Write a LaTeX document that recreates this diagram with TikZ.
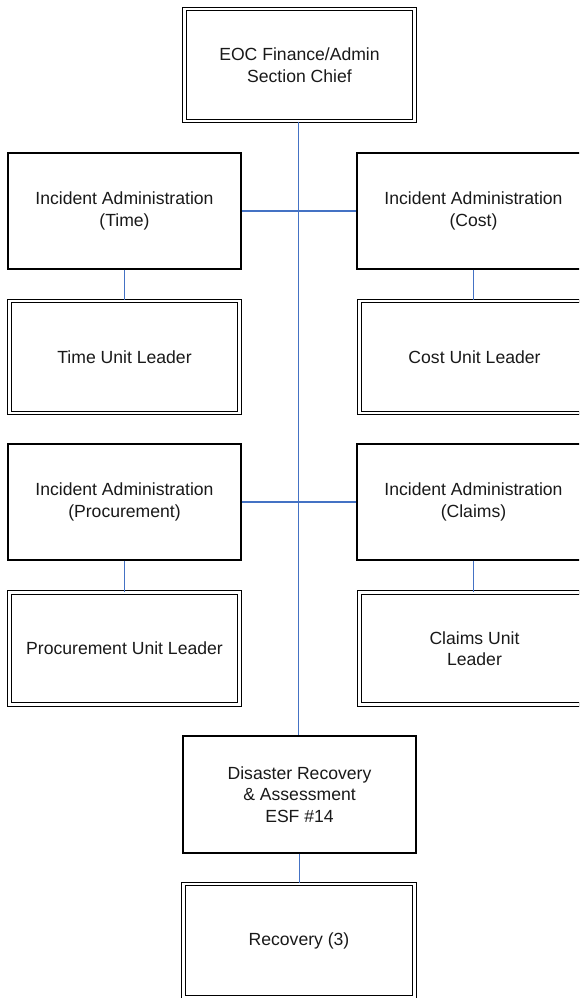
\documentclass[tikz,border=0pt]{standalone}
\usepackage{fontspec}
\setmainfont{Liberation Sans}
\definecolor{linkblue}{HTML}{4472C4}
\begin{document}
\begin{tikzpicture}[x=1pt,y=-1pt,
  every node/.style={font=\fontsize{17.6}{21.5}\selectfont, align=center, inner sep=0pt, text=black!90},
  singlebox/.style={draw=black, line width=1.1pt, minimum width=233pt, minimum height=116pt},
  doublebox/.style={draw=black, line width=1.1pt, double=white, double distance=2.6pt, minimum width=230pt, minimum height=112pt},
  link/.style={draw=linkblue, line width=1.2pt}]
\useasboundingbox (0,0) rectangle (579,998);
\clip (0,0) rectangle (579,998);
\node[doublebox] (top) at (299.5,65) {EOC Finance/Admin\\Section Chief};
\node[singlebox] (timeadm) at (124.5,211) {Incident Administration\\(Time)};
\node[singlebox] (costadm) at (473.5,211) {Incident Administration\\(Cost)};
\node[doublebox] (timeul) at (124.5,357) {Time Unit Leader};
\node[doublebox] (costul) at (474.5,357) {Cost Unit Leader};
\node[singlebox] (procadm) at (124.5,502) {Incident Administration\\(Procurement)};
\node[singlebox] (claimsadm) at (473.5,502) {Incident Administration\\(Claims)};
\node[doublebox] (procul) at (124.5,648.5) {Procurement Unit Leader};
\node[doublebox] (claimsul) at (474.5,648.5) {Claims Unit\\Leader};
\node[singlebox, minimum height=117pt] (disaster) at (299.5,794.5) {Disaster Recovery\\\& Assessment\\ESF \#14};
\node[doublebox, minimum width=231pt, minimum height=113pt] (recovery) at (299,940.5) {Recovery (3)};
\draw[link] ([xshift=-1pt]top.south) -- ([xshift=-1pt]top.south |- disaster.north);
\draw[link] (timeadm.east) -- (costadm.west);
\draw[link] (procadm.east) -- (claimsadm.west);
\draw[link] (timeadm.south) -- (timeadm.south |- timeul.north);
\draw[link] (costadm.south) -- (costadm.south |- costul.north);
\draw[link] (procadm.south) -- (procadm.south |- procul.north);
\draw[link] (claimsadm.south) -- (claimsadm.south |- claimsul.north);
\draw[link] (disaster.south) -- (disaster.south |- recovery.north);
\end{tikzpicture}
\end{document}
